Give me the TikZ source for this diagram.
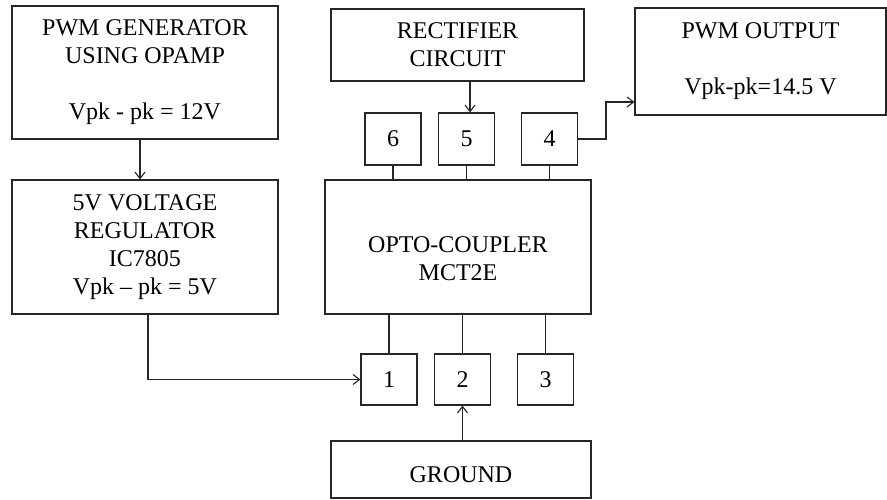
\documentclass[tikz,border=0pt]{standalone}
\usepackage{fontspec}
\setmainfont{Liberation Serif}
\usetikzlibrary{arrows.meta}
\begin{document}
\begin{tikzpicture}[x=1pt,y=-1pt,
  blk/.style={draw=black!85,line width=1.1pt,rectangle,inner sep=0pt,align=center,
    font=\fontsize{24}{28}\selectfont},
  pin/.style={blk,minimum width=56pt,minimum height=52pt},
  wire/.style={draw=black!85,line width=1.1pt},
  arr/.style={wire,-{Straight Barb[length=6.5pt,width=10pt]}}]
\useasboundingbox (0,0) rectangle (887,500);
\node[blk,minimum width=266pt,minimum height=133pt] (gen) at (145,72.5)
  {PWM GENERATOR\\USING OPAMP\\[28pt]Vpk - pk = 12V};
\node[blk,minimum width=266pt,minimum height=134pt] (reg) at (145,247)
  {5V VOLTAGE\\REGULATOR\\IC7805\\Vpk -- pk = 5V};
\node[blk,minimum width=253pt,minimum height=72pt] (rect) at (457.5,45)
  {RECTIFIER\\CIRCUIT};
\node[blk,minimum width=251pt,minimum height=107pt] (out) at (760.5,61.5)
  {PWM OUTPUT\\[28pt]Vpk-pk=14.5 V};
\node[blk,minimum width=266pt,minimum height=134pt] (opto) at (458,247) {};
\node[blk,draw=none] (optotxt) at (458,258.5) {OPTO-COUPLER\\MCT2E};
\node[pin] (p6) at (393,139) {6};
\node[pin] (p5) at (466.5,139) {5};
\node[pin] (p4) at (549.5,139) {4};
\node[pin,minimum height=51pt] (p1) at (389,379.5) {1};
\node[pin,minimum height=51pt] (p2) at (462.5,379.5) {2};
\node[pin,minimum height=51pt] (p3) at (545.5,379.5) {3};
\node[blk,minimum width=260pt,minimum height=57pt] (gnd) at (461,469.5) {};
\node[blk,draw=none] (gndtxt) at (461,475) {GROUND};
\coordinate (xa) at (140,0);
\coordinate (xb) at (148,0);
\coordinate (xc) at (470,0);
\coordinate (c4) at (606,102);
\draw[arr] (gen.south -| xa) -- (reg.north -| xa);
\draw[arr] (reg.south -| xb) |- (p1.west);
\draw[arr] (rect.south -| xc) -- (p5.north -| xc);
\draw[arr] (p4.east) -| (c4) -- (c4 -| out.west);
\draw[arr] (gnd.north -| p2.south) -- (p2.south);
\draw[wire] (p6.south) -- (p6.south |- opto.north);
\draw[wire] (p5.south) -- (p5.south |- opto.north);
\draw[wire] (p4.south) -- (p4.south |- opto.north);
\draw[wire] (p1.north) -- (p1.north |- opto.south);
\draw[wire] (p2.north) -- (p2.north |- opto.south);
\draw[wire] (p3.north) -- (p3.north |- opto.south);
\end{tikzpicture}
\end{document}
